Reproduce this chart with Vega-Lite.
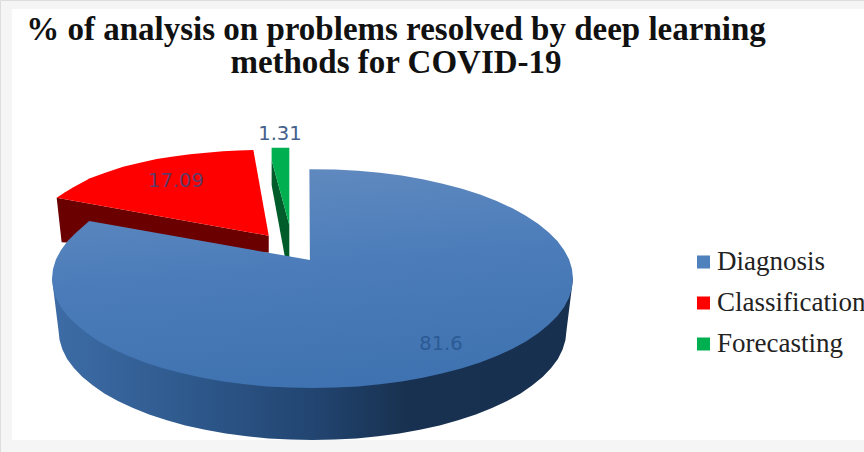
{
  "$schema": "https://vega.github.io/schema/vega-lite/v6.json",
  "width": 864,
  "height": 452,
  "padding": 0,
  "autosize": "none",
  "background": "#f5f5f5",
  "title": {
    "text": ["% of analysis on problems resolved by deep learning", "methods for COVID-19"],
    "font": "Liberation Serif",
    "fontWeight": "bold",
    "fontSize": 33,
    "lineHeight": 33,
    "color": "#111111",
    "anchor": "middle",
    "dx": -36,
    "offset": -80
  },
  "datasets": {
    "panel": [{"x": -115.4, "x2": 211.7, "y": 246, "y2": -147.5}],
    "slices": [
      {"category": "Diagnosis", "value": 81.6, "x": 49.3, "y": -59.8},
      {"category": "Classification", "value": 17.09, "x": -52.4, "y": 89},
      {"category": "Forecasting", "value": 1.31, "x": -12.5, "y": 132}
    ],
    "outlines": [
      {"part": "wall", "seq": 0, "x": 100, "y": 0},
      {"part": "wall", "seq": 90, "x": 97.5, "y": -47.5},
      {"part": "wall", "seq": 95, "x": 97.1, "y": -56.2},
      {"part": "wall", "seq": 100, "x": 96, "y": -64.9},
      {"part": "wall", "seq": 105, "x": 94.2, "y": -73.4},
      {"part": "wall", "seq": 110, "x": 91.6, "y": -81.7},
      {"part": "wall", "seq": 115, "x": 88.4, "y": -89.8},
      {"part": "wall", "seq": 120, "x": 84.4, "y": -97.5},
      {"part": "wall", "seq": 125, "x": 79.9, "y": -104.9},
      {"part": "wall", "seq": 130, "x": 74.7, "y": -111.8},
      {"part": "wall", "seq": 135, "x": 68.9, "y": -118.2},
      {"part": "wall", "seq": 140, "x": 62.7, "y": -124.1},
      {"part": "wall", "seq": 145, "x": 55.9, "y": -129.4},
      {"part": "wall", "seq": 150, "x": 48.8, "y": -134.1},
      {"part": "wall", "seq": 155, "x": 41.2, "y": -138.1},
      {"part": "wall", "seq": 160, "x": 33.3, "y": -141.5},
      {"part": "wall", "seq": 165, "x": 25.2, "y": -144.1},
      {"part": "wall", "seq": 170, "x": 16.9, "y": -146},
      {"part": "wall", "seq": 175, "x": 8.5, "y": -147.1},
      {"part": "wall", "seq": 180, "x": 0, "y": -147.5},
      {"part": "wall", "seq": 185, "x": -8.5, "y": -147.1},
      {"part": "wall", "seq": 190, "x": -16.9, "y": -146},
      {"part": "wall", "seq": 195, "x": -25.2, "y": -144.1},
      {"part": "wall", "seq": 200, "x": -33.3, "y": -141.5},
      {"part": "wall", "seq": 205, "x": -41.2, "y": -138.1},
      {"part": "wall", "seq": 210, "x": -48.8, "y": -134.1},
      {"part": "wall", "seq": 215, "x": -55.9, "y": -129.4},
      {"part": "wall", "seq": 220, "x": -62.7, "y": -124.1},
      {"part": "wall", "seq": 225, "x": -68.9, "y": -118.2},
      {"part": "wall", "seq": 230, "x": -74.7, "y": -111.8},
      {"part": "wall", "seq": 235, "x": -79.9, "y": -104.9},
      {"part": "wall", "seq": 240, "x": -84.4, "y": -97.5},
      {"part": "wall", "seq": 245, "x": -88.4, "y": -89.8},
      {"part": "wall", "seq": 250, "x": -91.6, "y": -81.7},
      {"part": "wall", "seq": 255, "x": -94.2, "y": -73.4},
      {"part": "wall", "seq": 260, "x": -96, "y": -64.9},
      {"part": "wall", "seq": 265, "x": -97.1, "y": -56.2},
      {"part": "wall", "seq": 270, "x": -97.5, "y": -47.5},
      {"part": "wall", "seq": 300, "x": -100, "y": 0},

      {"part": "redSide", "seq": 0, "x": -98.2, "y": 73.8},
      {"part": "redSide", "seq": 1, "x": -16.8, "y": 39.1},
      {"part": "redSide", "seq": 2, "x": -16.8, "y": 23.6},
      {"part": "redSide", "seq": 3, "x": -96.3, "y": 33.1},

      {"part": "red", "seq": 0, "x": -98.2, "y": 73.8},
      {"part": "red", "seq": 1, "x": -95, "y": 78.7},
      {"part": "red", "seq": 2, "x": -91.8, "y": 83.3},
      {"part": "red", "seq": 3, "x": -88.6, "y": 87.5},
      {"part": "red", "seq": 4, "x": -85.4, "y": 91.5},
      {"part": "red", "seq": 5, "x": -79, "y": 97},
      {"part": "red", "seq": 6, "x": -72.7, "y": 102.1},
      {"part": "red", "seq": 7, "x": -66.2, "y": 105.8},
      {"part": "red", "seq": 8, "x": -59.8, "y": 109.1},
      {"part": "red", "seq": 9, "x": -53.4, "y": 111.4},
      {"part": "red", "seq": 10, "x": -47, "y": 113.4},
      {"part": "red", "seq": 11, "x": -40.7, "y": 114.9},
      {"part": "red", "seq": 12, "x": -34.4, "y": 116.2},
      {"part": "red", "seq": 13, "x": -28.5, "y": 116.9},
      {"part": "red", "seq": 14, "x": -22.7, "y": 117.4},
      {"part": "red", "seq": 15, "x": -16.8, "y": 39.1},

      {"part": "greenSide", "seq": 0, "x": -15.7, "y": 108.2},
      {"part": "greenSide", "seq": 1, "x": -8.9, "y": 48.9},
      {"part": "greenSide", "seq": 2, "x": -8.9, "y": 19.6},
      {"part": "greenSide", "seq": 3, "x": -10.6, "y": 19.6},
      {"part": "greenSide", "seq": 4, "x": -15.7, "y": 85.4},

      {"part": "green", "seq": 0, "x": -15.7, "y": 119.5},
      {"part": "green", "seq": 1, "x": -8.9, "y": 119.5},
      {"part": "green", "seq": 2, "x": -8.9, "y": 48.9},
      {"part": "green", "seq": 3, "x": -15.7, "y": 108.2},

      {"part": "blue", "seq": -10, "x": -1, "y": 16.9},
      {"part": "blue", "seq": 0, "x": -1.2, "y": 99.7},
      {"part": "blue", "seq": 5, "x": 8.7, "y": 99.6},
      {"part": "blue", "seq": 10, "x": 17.4, "y": 98.5},
      {"part": "blue", "seq": 15, "x": 25.9, "y": 96.6},
      {"part": "blue", "seq": 20, "x": 34.2, "y": 94},
      {"part": "blue", "seq": 25, "x": 42.3, "y": 90.6},
      {"part": "blue", "seq": 30, "x": 50, "y": 86.6},
      {"part": "blue", "seq": 35, "x": 57.4, "y": 81.9},
      {"part": "blue", "seq": 40, "x": 64.3, "y": 76.6},
      {"part": "blue", "seq": 45, "x": 70.7, "y": 70.7},
      {"part": "blue", "seq": 50, "x": 76.6, "y": 64.3},
      {"part": "blue", "seq": 55, "x": 81.9, "y": 57.4},
      {"part": "blue", "seq": 60, "x": 86.6, "y": 50},
      {"part": "blue", "seq": 65, "x": 90.6, "y": 42.3},
      {"part": "blue", "seq": 70, "x": 94, "y": 34.2},
      {"part": "blue", "seq": 75, "x": 96.6, "y": 25.9},
      {"part": "blue", "seq": 80, "x": 98.5, "y": 17.4},
      {"part": "blue", "seq": 85, "x": 99.6, "y": 8.7},
      {"part": "blue", "seq": 90, "x": 100, "y": 0},
      {"part": "blue", "seq": 95, "x": 99.6, "y": -8.7},
      {"part": "blue", "seq": 100, "x": 98.5, "y": -17.4},
      {"part": "blue", "seq": 105, "x": 96.6, "y": -25.9},
      {"part": "blue", "seq": 110, "x": 94, "y": -34.2},
      {"part": "blue", "seq": 115, "x": 90.6, "y": -42.3},
      {"part": "blue", "seq": 120, "x": 86.6, "y": -50},
      {"part": "blue", "seq": 125, "x": 81.9, "y": -57.4},
      {"part": "blue", "seq": 130, "x": 76.6, "y": -64.3},
      {"part": "blue", "seq": 135, "x": 70.7, "y": -70.7},
      {"part": "blue", "seq": 140, "x": 64.3, "y": -76.6},
      {"part": "blue", "seq": 145, "x": 57.4, "y": -81.9},
      {"part": "blue", "seq": 150, "x": 50, "y": -86.6},
      {"part": "blue", "seq": 155, "x": 42.3, "y": -90.6},
      {"part": "blue", "seq": 160, "x": 34.2, "y": -94},
      {"part": "blue", "seq": 165, "x": 25.9, "y": -96.6},
      {"part": "blue", "seq": 170, "x": 17.4, "y": -98.5},
      {"part": "blue", "seq": 175, "x": 8.7, "y": -99.6},
      {"part": "blue", "seq": 180, "x": 0, "y": -100},
      {"part": "blue", "seq": 185, "x": -8.7, "y": -99.6},
      {"part": "blue", "seq": 190, "x": -17.4, "y": -98.5},
      {"part": "blue", "seq": 195, "x": -25.9, "y": -96.6},
      {"part": "blue", "seq": 200, "x": -34.2, "y": -94},
      {"part": "blue", "seq": 205, "x": -42.3, "y": -90.6},
      {"part": "blue", "seq": 210, "x": -50, "y": -86.6},
      {"part": "blue", "seq": 215, "x": -57.4, "y": -81.9},
      {"part": "blue", "seq": 220, "x": -64.3, "y": -76.6},
      {"part": "blue", "seq": 225, "x": -70.7, "y": -70.7},
      {"part": "blue", "seq": 230, "x": -76.6, "y": -64.3},
      {"part": "blue", "seq": 235, "x": -81.9, "y": -57.4},
      {"part": "blue", "seq": 240, "x": -86.6, "y": -50},
      {"part": "blue", "seq": 245, "x": -90.6, "y": -42.3},
      {"part": "blue", "seq": 250, "x": -94, "y": -34.2},
      {"part": "blue", "seq": 255, "x": -96.6, "y": -25.9},
      {"part": "blue", "seq": 260, "x": -98.5, "y": -17.4},
      {"part": "blue", "seq": 265, "x": -99.6, "y": -8.7},
      {"part": "blue", "seq": 270, "x": -100, "y": 0},
      {"part": "blue", "seq": 275, "x": -99.6, "y": 8.7},
      {"part": "blue", "seq": 280, "x": -98.5, "y": 17.4},
      {"part": "blue", "seq": 285, "x": -96.6, "y": 25.9},
      {"part": "blue", "seq": 290, "x": -94, "y": 34.2},
      {"part": "blue", "seq": 295, "x": -90.6, "y": 42.3},
      {"part": "blue", "seq": 300, "x": -85.7, "y": 52.5}
    ]
  },
  "encoding": {
    "x": {"field": "x", "type": "quantitative", "axis": null, "scale": {"domain": [-119.96, 211.7], "nice": false, "zero": false}},
    "y": {"field": "y", "type": "quantitative", "axis": null, "scale": {"domain": [-158.4, 254.3], "nice": false, "zero": false}}
  },
  "layer": [
    {
      "data": {"name": "panel"},
      "mark": {"type": "rect", "fill": "#ffffff"},
      "encoding": {"x2": {"field": "x2"}, "y2": {"field": "y2"}}
    },
    {
      "data": {"name": "outlines"},
      "transform": [{"filter": "datum.part === 'wall'"}],
      "mark": {"type": "line", "strokeWidth": 0, "fill": {
        "gradient": "linear", "x1": 0, "x2": 1, "y1": 0, "y2": 0,
        "stops": [
          {"offset": 0, "color": "#3d6ca6"},
          {"offset": 0.25, "color": "#2f5a8e"},
          {"offset": 0.5, "color": "#224571"},
          {"offset": 0.68, "color": "#183150"},
          {"offset": 1, "color": "#17304f"}
        ]
      }},
      "encoding": {"order": {"field": "seq"}}
    },
    {
      "data": {"name": "outlines"},
      "transform": [{"filter": "datum.part === 'redSide'"}],
      "mark": {"type": "line", "strokeWidth": 0, "fill": "#6b0000"},
      "encoding": {"order": {"field": "seq"}}
    },
    {
      "data": {"name": "outlines"},
      "transform": [{"filter": "datum.part === 'red'"}],
      "mark": {"type": "line", "strokeWidth": 0, "fill": "#ff0000"},
      "encoding": {"order": {"field": "seq"}}
    },
    {
      "data": {"name": "outlines"},
      "transform": [{"filter": "datum.part === 'greenSide'"}],
      "mark": {"type": "line", "strokeWidth": 0, "fill": "#005c2a"},
      "encoding": {"order": {"field": "seq"}}
    },
    {
      "data": {"name": "outlines"},
      "transform": [{"filter": "datum.part === 'green'"}],
      "mark": {"type": "line", "strokeWidth": 0, "fill": "#00b050"},
      "encoding": {"order": {"field": "seq"}}
    },
    {
      "data": {"name": "outlines"},
      "transform": [{"filter": "datum.part === 'blue'"}],
      "mark": {"type": "line", "strokeWidth": 0, "fill": {
        "gradient": "linear", "x1": 0.3, "x2": 0.5, "y1": 0, "y2": 1,
        "stops": [
          {"offset": 0, "color": "#618abf"},
          {"offset": 0.45, "color": "#4c7dba"},
          {"offset": 1, "color": "#3f72b0"}
        ]
      }},
      "encoding": {"order": {"field": "seq"}}
    },
    {
      "data": {"name": "slices"},
      "mark": {"type": "square", "opacity": 0},
      "encoding": {
        "color": {
          "field": "category",
          "type": "nominal",
          "scale": {"domain": ["Diagnosis", "Classification", "Forecasting"], "range": ["#4f81bd", "#ff0000", "#00b050"]},
          "legend": {
            "title": null,
            "orient": "none",
            "legendX": 690,
            "legendY": 247,
            "symbolType": "square",
            "symbolSize": 170,
            "symbolOpacity": 1,
            "labelFont": "Liberation Serif",
            "labelFontSize": 27,
            "labelColor": "#222222",
            "labelLimit": 300,
            "labelOffset": 0,
            "rowPadding": 11,
            "clipHeight": 30
          }
        }
      }
    },
    {
      "data": {"name": "slices"},
      "transform": [{"filter": "datum.category === 'Diagnosis'"}],
      "mark": {"type": "text", "font": "DejaVu Sans", "fontSize": 19.5, "color": "#2c5a94"},
      "encoding": {"text": {"field": "value", "type": "quantitative"}}
    },
    {
      "data": {"name": "slices"},
      "transform": [{"filter": "datum.category === 'Classification'"}],
      "mark": {"type": "text", "font": "DejaVu Sans", "fontSize": 19.5, "color": "#5f3a66"},
      "encoding": {"text": {"field": "value", "type": "quantitative"}}
    },
    {
      "data": {"name": "slices"},
      "transform": [{"filter": "datum.category === 'Forecasting'"}],
      "mark": {"type": "text", "font": "DejaVu Sans", "fontSize": 19.5, "color": "#44618c"},
      "encoding": {"text": {"field": "value", "type": "quantitative"}}
    }
  ]
}
